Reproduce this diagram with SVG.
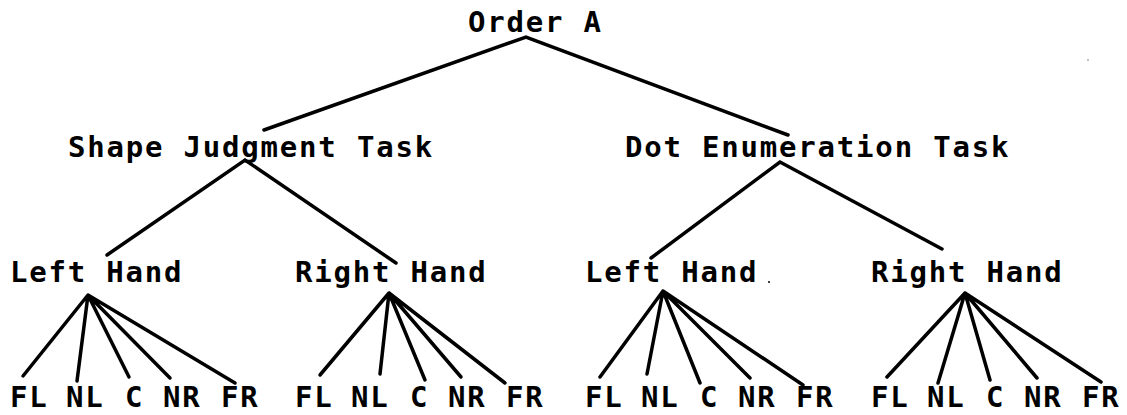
<svg xmlns="http://www.w3.org/2000/svg" width="1127" height="415" viewBox="0 0 1127 415">
  <style>
    text { font-family: "DejaVu Sans Mono", "Liberation Mono", monospace; font-size: 29px; font-weight: bold; letter-spacing: 1.8px; fill: #000; }
    .edge { stroke: #000; stroke-width: 3.5; stroke-linecap: round; fill: none; }
  </style>
  <rect width="1127" height="415" fill="#fff"/>

  <!-- tree edges -->
  <g id="connectors">
    <!-- root to tasks -->
    <polyline class="edge" points="264,130 526,37 788,135"/>
    <!-- tasks to hands -->
    <polyline class="edge" points="107,255 245,160 396,263"/>
    <polyline class="edge" points="651,258 780,162 942,249"/>
    <!-- hands to positions -->
    <path class="edge" d="M88,295 L23,376 M88,295 L77,381 M88,295 L129,377 M88,295 L170,378 M88,295 L235,383"/>
    <path class="edge" d="M389,293 L320,375 M389,293 L380,374 M389,293 L425,380 M389,293 L461,377 M389,293 L505,383"/>
    <path class="edge" d="M663,291 L600,377 M663,291 L647,374 M663,291 L700,383 M663,291 L750,378 M663,291 L803,385"/>
    <path class="edge" d="M965,293 L887,377 M965,293 L938,383 M965,293 L990,380 M965,293 L1037,378 M965,293 L1101,382"/>
  </g>

  <g id="order-a"><text x="468" y="32">Order A</text></g>

  <g id="shape-task"><text x="68" y="157">Shape Judgment Task</text></g>
  <g id="dot-task"><text x="625" y="157">Dot Enumeration Task</text></g>

  <g id="shape-left"><text x="10" y="282">Left Hand</text></g>
  <g id="shape-right"><text x="295" y="282">Right Hand</text></g>
  <g id="dot-left"><text x="585" y="282">Left Hand</text></g>
  <g id="dot-right"><text x="871" y="282">Right Hand</text></g>

  <!-- position labels -->
  <g id="shape-left-fl"><text x="10" y="407">FL</text></g>
  <g id="shape-left-nl"><text x="66" y="407">NL</text></g>
  <g id="shape-left-c"><text x="125" y="407">C</text></g>
  <g id="shape-left-nr"><text x="163" y="407">NR</text></g>
  <g id="shape-left-fr"><text x="221" y="407">FR</text></g>

  <g id="shape-right-fl"><text x="295" y="407">FL</text></g>
  <g id="shape-right-nl"><text x="351" y="407">NL</text></g>
  <g id="shape-right-c"><text x="410" y="407">C</text></g>
  <g id="shape-right-nr"><text x="448" y="407">NR</text></g>
  <g id="shape-right-fr"><text x="506" y="407">FR</text></g>

  <g id="dot-left-fl"><text x="585" y="407">FL</text></g>
  <g id="dot-left-nl"><text x="641" y="407">NL</text></g>
  <g id="dot-left-c"><text x="700" y="407">C</text></g>
  <g id="dot-left-nr"><text x="738" y="407">NR</text></g>
  <g id="dot-left-fr"><text x="796" y="407">FR</text></g>

  <g id="dot-right-fl"><text x="871" y="407">FL</text></g>
  <g id="dot-right-nl"><text x="927" y="407">NL</text></g>
  <g id="dot-right-c"><text x="986" y="407">C</text></g>
  <g id="dot-right-nr"><text x="1024" y="407">NR</text></g>
  <g id="dot-right-fr"><text x="1082" y="407">FR</text></g>

  <!-- stray specks -->
  <circle cx="769" cy="282" r="1" fill="#000"/>
  <circle cx="1088" cy="60" r="0.7" fill="#555"/>
</svg>
